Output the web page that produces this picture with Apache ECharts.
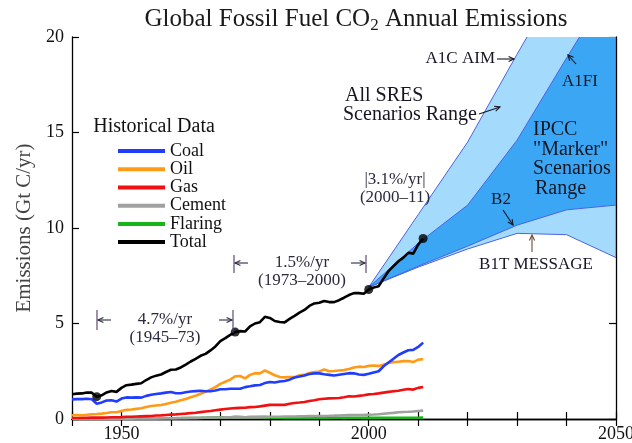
<!DOCTYPE html>
<html><head><meta charset="utf-8">
<script src="https://cdn.jsdelivr.net/npm/echarts@6/dist/echarts.min.js"></script>
<style>html,body{margin:0;padding:0;background:#fff}#c{width:632px;height:443px}</style>
</head><body><div id="c"></div>
<script>
// ---------- data (Gt C / yr), yearly from 1940 to 2011 ----------
const startYear = 1940;
const coal = [
  1.03,1.04,1.04,1.06,1.03,0.80,0.87,0.97,0.98,0.91,
  1.07,1.13,1.12,1.13,1.12,1.21,1.27,1.31,1.34,1.38,
  1.41,1.35,1.35,1.40,1.44,1.46,1.48,1.45,1.45,1.49,
  1.56,1.56,1.58,1.58,1.58,1.67,1.71,1.76,1.78,1.88,
  1.94,1.91,1.96,1.99,2.06,2.17,2.22,2.28,2.36,2.39,
  2.39,2.34,2.31,2.28,2.32,2.36,2.40,2.39,2.33,2.31,
  2.37,2.44,2.50,2.76,2.96,3.15,3.35,3.48,3.60,3.62,3.77,4.00];
const oil = [
  0.20,0.21,0.20,0.22,0.25,0.26,0.28,0.31,0.35,0.35,
  0.42,0.48,0.50,0.53,0.56,0.63,0.68,0.71,0.73,0.79,
  0.85,0.90,0.98,1.05,1.14,1.22,1.32,1.42,1.55,1.67,
  1.84,1.95,2.06,2.24,2.25,2.13,2.31,2.40,2.39,2.54,
  2.42,2.29,2.20,2.18,2.20,2.19,2.29,2.31,2.41,2.46,
  2.49,2.60,2.50,2.51,2.54,2.56,2.62,2.70,2.74,2.72,
  2.78,2.80,2.78,2.84,2.94,2.97,3.00,3.03,3.04,2.98,3.11,3.13];
const gas = [
  0.05,0.05,0.06,0.06,0.07,0.07,0.07,0.08,0.09,0.09,
  0.10,0.12,0.12,0.13,0.14,0.15,0.16,0.18,0.19,0.21,
  0.23,0.24,0.26,0.28,0.31,0.33,0.36,0.39,0.42,0.46,
  0.49,0.52,0.55,0.57,0.58,0.59,0.62,0.63,0.66,0.70,
  0.74,0.74,0.74,0.74,0.80,0.84,0.86,0.89,0.94,0.98,
  1.03,1.06,1.08,1.09,1.10,1.14,1.19,1.18,1.21,1.24,
  1.29,1.31,1.34,1.38,1.42,1.45,1.48,1.53,1.57,1.54,1.63,1.68];
const cement = [
  0.010,0.011,0.011,0.010,0.007,0.007,0.010,0.012,0.014,0.016,
  0.018,0.020,0.022,0.024,0.027,0.030,0.032,0.034,0.036,0.040,
  0.043,0.045,0.049,0.051,0.057,0.059,0.063,0.065,0.070,0.074,
  0.078,0.084,0.089,0.095,0.096,0.095,0.103,0.108,0.116,0.119,
  0.120,0.121,0.121,0.125,0.128,0.131,0.137,0.143,0.152,0.156,
  0.157,0.161,0.167,0.176,0.186,0.197,0.203,0.209,0.209,0.217,
  0.226,0.237,0.252,0.276,0.298,0.320,0.350,0.370,0.380,0.395,0.420,0.440];
const flaring = [
  0.006,0.006,0.006,0.006,0.006,0.007,0.008,0.009,0.010,0.010,
  0.023,0.024,0.026,0.027,0.027,0.031,0.032,0.035,0.035,0.036,
  0.039,0.042,0.044,0.047,0.051,0.055,0.060,0.066,0.073,0.080,
  0.087,0.088,0.095,0.110,0.107,0.092,0.108,0.104,0.106,0.098,
  0.083,0.069,0.067,0.059,0.049,0.049,0.052,0.053,0.053,0.053,
  0.059,0.069,0.061,0.062,0.063,0.061,0.063,0.065,0.063,0.061,
  0.061,0.061,0.061,0.064,0.068,0.068,0.068,0.068,0.069,0.066,0.066,0.070];
const total = [
  1.30,1.33,1.34,1.39,1.38,1.17,1.24,1.39,1.47,1.42,
  1.63,1.77,1.80,1.84,1.87,2.04,2.18,2.27,2.33,2.46,
  2.58,2.59,2.70,2.85,3.01,3.15,3.31,3.41,3.59,3.80,
  4.08,4.23,4.40,4.55,4.60,4.58,4.85,5.00,5.07,5.35,
  5.29,5.13,5.08,5.06,5.24,5.40,5.57,5.71,5.92,6.05,
  6.09,6.18,6.12,6.12,6.22,6.35,6.49,6.59,6.59,6.56,
  6.78,6.88,6.95,7.36,7.74,8.00,8.26,8.45,8.70,8.66,9.13,9.45];
const markerYears = [1945, 1973, 2000, 2011];

// scenario envelopes
const scenarioYears = [2000, 2010, 2020, 2030, 2040, 2050];
const a1cAim = [6.9, 10.7, 14.5, 19.1, 23.6, 28.0];
const a1fi   = [6.9,  9.2, 11.2, 14.6, 18.9, 23.1];
const b2     = [6.9,  8.0,  9.05, 10.15, 10.95, 11.2];
const b1t    = [6.9,  7.95, 8.9,  9.72,  9.65,  8.45];

const xTickLabels = [1950, 2000, 2050];
const seriesNames = ['Coal', 'Oil', 'Gas', 'Cement', 'Flaring', 'Total'];

// ---------- build ----------
const SERIF = '"Liberation Serif","Times New Roman",serif';
const ANN = '#2a2a40';
const DARK = '#161622';
const years = coal.map((_, i) => startYear + i);
const pairs = arr => arr.map((v, i) => [years[i], v]);

const colors = {Coal:'#1f3cff', Oil:'#ff9a16', Gas:'#f01010', Cement:'#a0a0a0', Flaring:'#19b419', Total:'#000000'};
const histData = {Coal: coal, Oil: oil, Gas: gas, Cement: cement, Flaring: flaring, Total: total};

const series = [{
  name: 'scenarios', type: 'custom', clip: true, silent: true, z: 1,
  data: scenarioYears.map((y, i) => [y, b1t[i], a1cAim[i], b2[i], a1fi[i]]),
  encode: {x: 0, y: [1, 2, 3, 4]},
  renderItem: function (params, api) {
    if (params.dataIndex !== 0) return null;
    const P = (arr) => arr.map((v, i) => api.coord([scenarioYears[i], v]));
    const light = P(a1cAim).concat(P(b1t).reverse());
    const dark = P(a1fi).concat(P(b2).reverse());
    return {type: 'group', children: [
      {type: 'polygon', shape: {points: light}, style: {fill: '#a4dbfd', stroke: '#4a63e6', lineWidth: 1}},
      {type: 'polygon', shape: {points: dark}, style: {fill: '#3aa6f4', stroke: '#4a63e6', lineWidth: 1}}
    ]};
  }
}];
['Flaring','Cement','Gas','Oil','Coal','Total'].forEach(n => {
  series.push({name:n, type:'line', data: pairs(histData[n]), symbol:'none', showSymbol:false,
    lineStyle:{color: colors[n], width: 2.6}, itemStyle:{color: colors[n]}, z: 5});
});
series.push({name:'dots', type:'scatter', data: markerYears.map(y => [y, total[y - startYear]]),
  symbolSize: 9, itemStyle:{color:'#000'}, z: 6, silent:true});

// annotation helpers
function T(text, x, y, size, align, color) {
  return {type:'text', x: x, y: y, z: 100,
    style:{text: text, fontFamily: SERIF, fontSize: size, fill: color || ANN,
      align: align || 'center', verticalAlign: 'middle', textAlign: align || 'center', textVerticalAlign: 'middle'}};
}
function L(x1, y1, x2, y2, color, w) {
  return {type:'line', z: 100, shape:{x1, y1, x2, y2}, style:{stroke: color || ANN, lineWidth: w || 1.1}};
}
function A(x1, y1, x2, y2, color) {
  const dx = x2 - x1, dy = y2 - y1, len = Math.hypot(dx, dy);
  const ux = dx / len, uy = dy / len, h = 6, a = 0.45;
  const p1 = [x2 - h * (ux * Math.cos(a) - uy * Math.sin(a)), y2 - h * (uy * Math.cos(a) + ux * Math.sin(a))];
  const p2 = [x2 - h * (ux * Math.cos(a) + uy * Math.sin(a)), y2 - h * (uy * Math.cos(a) - ux * Math.sin(a))];
  return [L(x1, y1, x2, y2, color),
    {type:'polyline', z:100, shape:{points:[p1, [x2, y2], p2]}, style:{stroke: color || ANN, lineWidth: 1.1, fill: null}}];
}

const graphics = [].concat(
  // 4.7%/yr (1945-73)
  [L(97, 310, 97, 330, '#4b3a66'), L(233, 310, 233, 333, '#4b3a66')],
  A(111, 320, 98, 320), A(219, 320, 232, 320),
  [T('4.7%/yr', 165, 320, 17), T('(1945\u201373)', 165, 338, 17)],
  // 1.5%/yr (1973-2000)
  [L(234, 255, 234, 273, '#4b3a66'), L(366, 255, 366, 273, '#4b3a66')],
  A(248, 263, 235, 263), A(351, 263, 365, 263),
  [T('1.5%/yr', 302, 263, 17), T('(1973\u20132000)', 302, 281, 17)],
  // 3.1%/yr
  [T('|3.1%/yr|', 395, 180, 17), T('(2000\u201311)', 395, 198, 17)],
  // labels on scenario ranges
  [T('A1C AIM', 495, 59, 17, 'right', DARK)], A(497, 59, 514, 59, DARK),
  [T('All SRES', 345, 96, 20, 'left', DARK), T('Scenarios Range', 343, 115, 20, 'left', DARK)],
  A(479, 114, 500, 107, DARK),
  [T('A1FI', 580, 82, 17, 'center', DARK)], A(576, 64, 568, 55, DARK),
  [T('IPCC', 533, 130, 20, 'left', DARK), T('"Marker"', 533, 149.5, 20, 'left', DARK),
   T('Scenarios', 533, 169, 20, 'left', DARK), T('Range', 535, 188.5, 20, 'left', DARK)],
  [T('B2', 501, 200, 17, 'center', DARK)], A(503, 210, 513, 225, DARK),
  [T('B1T MESSAGE', 536, 265, 17, 'center', DARK)], A(532, 252, 532, 235, '#6b4a30'),
  // legend title
  [T('Historical Data', 154, 127, 20, 'center', '#111')]
);

const chart = echarts.init(document.getElementById('c'), null, {renderer: 'canvas'});
chart.setOption({
  animation: false,
  backgroundColor: '#fff',
  title: {
    text: 'Global Fossil Fuel CO{s|2} Annual Emissions',
    left: 351, top: 0, textAlign: 'center',
    textStyle: {fontFamily: SERIF, fontSize: 25, fontWeight: 'normal', color: '#1a1a1a',
      rich: {s: {fontFamily: SERIF, fontSize: 17, color: '#1a1a1a', padding: [12, 0, 0, 0]}}}
  },
  grid: {left: 72, right: 16, top: 37, bottom: 24, containLabel: false, outerBoundsMode: 'none'},
  legend: {
    data: seriesNames, orient: 'vertical', left: 113, top: 137, icon: 'rect',
    itemWidth: 47, itemHeight: 4, itemGap: 0, selectedMode: false,
    textStyle: {fontFamily: SERIF, fontSize: 18, color: '#111', lineHeight: 18.2}
  },
  xAxis: [
    {type: 'value', min: 1940, max: 2050, interval: 10, position: 'bottom',
      axisLine: {lineStyle: {color: '#000', width: 1.3}},
      axisTick: {inside: true, length: 7, lineStyle: {color: '#000', width: 1.2}},
      axisLabel: {formatter: v => xTickLabels.includes(v) ? String(v) : '', fontFamily: SERIF, fontSize: 18,
        color: '#111', margin: 6, showMaxLabel: true, showMinLabel: true, hideOverlap: false},
      splitLine: {show: false}},
    {type: 'value', min: 1940, max: 2050, interval: 10, position: 'top',
      axisLine: {lineStyle: {color: '#000', width: 1.3}},
      axisTick: {inside: true, length: 7, lineStyle: {color: '#000', width: 1.2}},
      axisLabel: {show: false}, splitLine: {show: false}}
  ],
  yAxis: [
    {type: 'value', min: 0, max: 20, interval: 5, position: 'left',
      name: 'Emissions (Gt C/yr)', nameLocation: 'middle', nameGap: 37,
      nameTextStyle: {fontFamily: SERIF, fontSize: 21, color: '#444'},
      axisLine: {show: true, lineStyle: {color: '#000', width: 1.3}},
      axisTick: {show: true, inside: true, length: 7, lineStyle: {color: '#000', width: 1.2}},
      axisLabel: {fontFamily: SERIF, fontSize: 18, color: '#111', margin: 8},
      splitLine: {show: false}},
    {type: 'value', min: 0, max: 20, interval: 5, position: 'right',
      axisLine: {show: true, lineStyle: {color: '#000', width: 1.3}},
      axisTick: {show: true, inside: true, length: 7, lineStyle: {color: '#000', width: 1.2}},
      axisLabel: {show: false}, splitLine: {show: false}}
  ],
  series: series,
  graphic: graphics
});
</script>
</body></html>
